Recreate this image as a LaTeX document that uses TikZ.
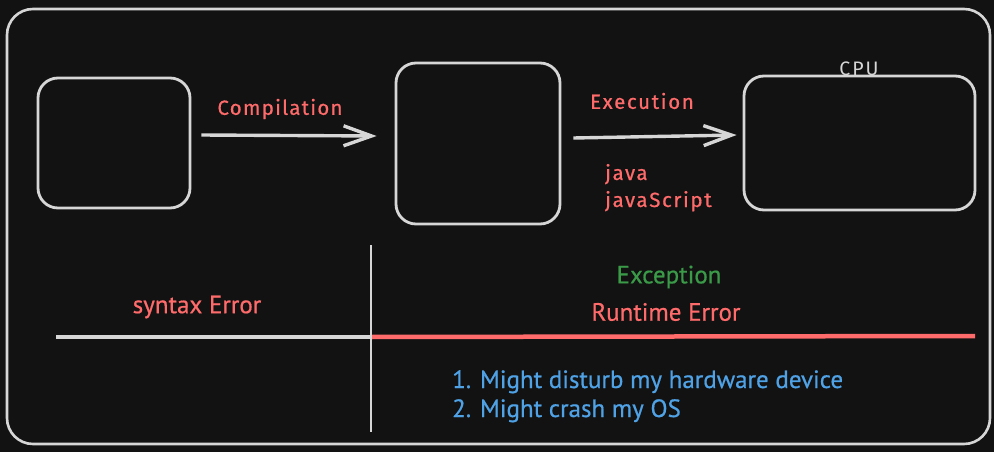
\documentclass[tikz,border=0pt]{standalone}
\usepackage{fontspec}
\setmainfont{Fira Sans}
\newfontfamily\handb[FakeBold=0.6]{PT Sans}
\newfontfamily\handa[FakeBold=0.6]{Fira Sans}
\usetikzlibrary{arrows.meta,calc}
\definecolor{bg}{HTML}{121212}
\definecolor{strk}{HTML}{D6D6D6}
\definecolor{redt}{HTML}{FF6B6B}
\definecolor{greent}{HTML}{3A9A48}
\definecolor{bluet}{HTML}{4FA2E6}
\tikzset{
  box/.style={draw=strk, line width=2.8pt, rounded corners=20pt, inner sep=0pt},
  arr/.style={draw=strk, line width=3.4pt, -{Straight Barb[length=28pt,width=20pt]}},
  toplabel/.style={text=redt, font=\handa\fontsize{20.5}{22}\selectfont, inner sep=0pt},
  botlabel/.style={font=\handb\fontsize{25}{28}\selectfont, inner sep=0pt},
  divider/.style={line width=2.8pt, draw=strk},
}
\begin{document}
\begin{tikzpicture}[x=1pt,y=-1pt]
\fill[bg] (0,0) rectangle (994,452);
\useasboundingbox (0,0) rectangle (994,452);
% outer frame
\node[draw=strk, line width=2.6pt, rounded corners=26pt, minimum width=983pt, minimum height=435pt, inner sep=0pt] (frame) at (498.5,226.5) {};
% boxes
\node[box, minimum width=152pt, minimum height=130pt] (b1) at (114,143) {};
\node[box, minimum width=164pt, minimum height=161pt] (b2) at (478,143.5) {};
\node[box, minimum width=231pt, minimum height=134pt] (b3) at (859.5,143) {};
\node[text=strk, font=\fontsize{19.5}{21}\selectfont\addfontfeatures{LetterSpace=10}, anchor=base, inner sep=0pt] (cpu) at (859,76) {CPU};
% arrows
\draw[arr] ($(b1.east)+(10,-8)$) -- ($(b2.west)+(-18,-7.5)$);
\draw[arr] ($(b2.east)+(12,-5.5)$) -- ($(b3.west)+(-6,-8)$);
\node[toplabel] (comp) at (280,109) {\addfontfeatures{LetterSpace=6}Compilation};
\node[toplabel] (exec) at (642,101) {\addfontfeatures{LetterSpace=8}Execution};
\node[toplabel, anchor=base west] (java) at (605,180) {\addfontfeatures{LetterSpace=8}java};
\node[toplabel, anchor=base west] (js) at (605,207) {\addfontfeatures{LetterSpace=8}javaScript};
% dividers
\coordinate (vt) at (371,245);
\coordinate (vb) at (371,432);
\coordinate (hl) at (56,337);
\coordinate (hm) at (371,337);
\coordinate (hr) at (975,336);
\draw[line width=4pt, draw=strk] (hl) -- (hm);
\draw[draw=redt, line width=4.5pt] (hm) -- (hr);
\draw[divider] (vt) -- (vb);
% bottom labels
\node[botlabel, text=redt] (syn) at (197,307) {syntax Error};
\node[botlabel, text=greent] (exc) at (669,277) {Exception};
\node[botlabel, text=redt] (rte) at (666,312) {Runtime Error};
\node[botlabel, text=bluet, anchor=base west] (l1) at (452,388) {1. Might disturb my hardware device};
\node[botlabel, text=bluet, anchor=base west] (l2) at (452,417) {2. Might crash my OS};
\end{tikzpicture}
\end{document}
